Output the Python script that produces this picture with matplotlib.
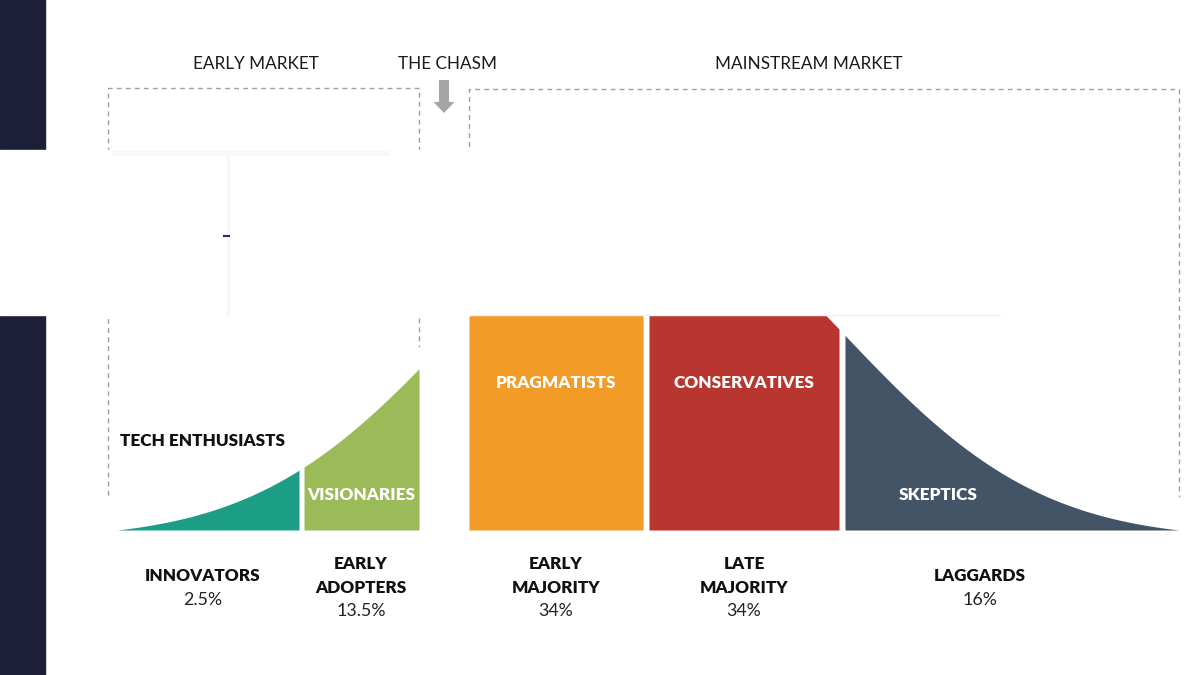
"""Crossing the chasm: technology adoption life cycle (bell curve split into 5 groups)."""

import matplotlib

matplotlib.use('Agg')
import matplotlib.pyplot as plt
import numpy as np
from matplotlib.patches import FancyArrow, Rectangle

plt.rcParams['font.family'] = ['Lato', 'DejaVu Sans']

# ---- data ----
groups = ['INNOVATORS', 'EARLY\nADOPTERS', 'EARLY\nMAJORITY', 'LATE\nMAJORITY', 'LAGGARDS']
shares = ['2.5%', '13.5%', '34%', '34%', '16%']
personas = ['TECH ENTHUSIASTS', 'VISIONARIES', 'PRAGMATISTS', 'CONSERVATIVES', 'SKEPTICS']
markets = ['EARLY MARKET', 'THE CHASM', 'MAINSTREAM MARKET']
colors = ['#1b9e85', '#9bbb59', '#f29b27', '#b9352f', '#435467']

# ---- layout (canvas in pixels, y downwards) ----
W, H = 1200, 675
BASE = 530          # baseline of the curve
MU, SIG, AMP = 648, 195, 338
seg_x = [(110, 299), (304, 419), (469, 643), (649, 839), (845, 1179)]
persona_pos = [(203, 441), (361, 495), (556, 383), (744, 383), (938, 495)]
persona_col = ['#111111', 'white', 'white', 'white', 'white']
label_x = [203, 361, 556, 744, 980]
market_pos = [(256, 64), (447, 64), (809, 64)]
BOLD = 12.3
REG = 12.8


def curve(x):
    # bell shape, shifted so the tails come down to the baseline
    e0 = np.exp(-0.5 * ((1179 - MU) / SIG) ** 2)
    h = AMP * (np.exp(-0.5 * ((x - MU) / SIG) ** 2) - e0)
    return BASE - np.clip(h, 0, None)


fig = plt.figure(figsize=(12, 6.75), dpi=100)
ax = fig.add_axes([0, 0, 1, 1])
ax.set_xlim(0, W)
ax.set_ylim(H, 0)
ax.axis('off')

# dark strip on the left
ax.add_patch(Rectangle((0, 0), 45, H, color='#1c1f37', zorder=0))

# dashed market brackets
dash = dict(color='#a0a0a0', lw=1.0, ls=(0, (3.5, 3)), zorder=1)
ax.plot([108, 108, 419, 419], [495, 88, 88, 347], **dash)
ax.plot([469, 469, 1179, 1179], [300, 89, 89, 497], **dash)

# chasm arrow
ax.add_patch(FancyArrow(444, 80, 0, 33, width=10, head_width=21, head_length=11,
                        length_includes_head=True, color='#a5a5a5', lw=0, zorder=2))

# curve segments
for (x0, x1), c in zip(seg_x, colors):
    xs = np.linspace(x0, x1, 300)
    ax.fill_between(xs, BASE, curve(xs), color=c, lw=0, zorder=2)

# white patch covering the top of the curve
ax.add_patch(Rectangle((0, 150), 1000, 165, color='white', zorder=5))
ax.plot([470, 1000], [315, 315], color='#f0f0f0', lw=0.8, zorder=6)
ax.add_patch(Rectangle((112, 151), 278, 5, color='#f8f8f8', lw=0, zorder=6))
ax.plot([228, 228], [156, 315], color='#f6f7f9', lw=2.5, zorder=6)
ax.plot([224, 229], [236, 236], color='#2a2a6a', lw=1.5, zorder=6)

# market headings
for t, (x, y) in zip(markets, market_pos):
    ax.text(x, y, t, ha='center', va='center', fontsize=12.3, color='#1a1a1a', zorder=7)

# persona labels
for t, (x, y), c in zip(personas, persona_pos, persona_col):
    ax.text(x, y, t, ha='center', va='center', fontsize=BOLD, fontweight='heavy',
            color=c, zorder=7)

# group names and shares under the curve
for g, s, x in zip(groups, shares, label_x):
    lines = g.split('\n')
    if len(lines) == 2:
        ys, ps = [564, 588], 611
    else:
        ys, ps = [576], 600
    for ln, y in zip(lines, ys):
        ax.text(x, y, ln, ha='center', va='center', fontsize=BOLD, fontweight='heavy',
                color='#111111', zorder=7)
    ax.text(x, ps, s, ha='center', va='center', fontsize=REG, color='#222222', zorder=7)

fig.savefig('out.png', dpi=100, facecolor='white')
